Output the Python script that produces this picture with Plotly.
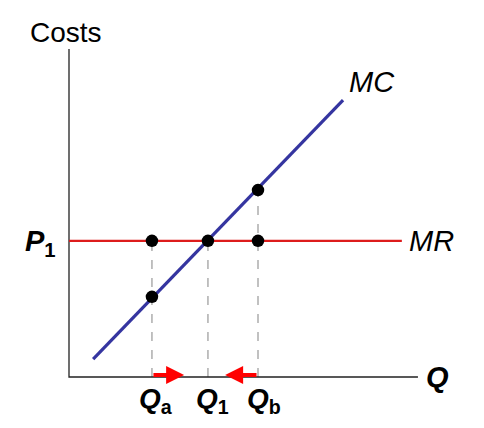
import plotly.graph_objects as go

# Data (Q units / cost units)
q_labels = ["Q<sub>a</sub>", "Q<sub>1</sub>", "Q<sub>b</sub>"]
q_values = [2.37, 3.97, 5.4]
p1 = 3.89
mc_q = [0.69, 7.83]
mc_cost = [0.51, 7.91]
mr_q = [0.0, 9.51]
dot_q = [2.37, 3.97, 5.4, 5.4, 2.37]
dot_cost = [3.89, 3.89, 3.89, 5.34, 2.29]
dash_top = [3.89, 3.89, 5.34]
axis_q_max = 9.97
axis_cost_max = 9.37
arrow_tips = [3.29, 4.46]

S = 35.0
PAD = 8  # page body margin
ox, oy = 69 - PAD, 377 - PAD
W, H = 468, 412

fig = go.Figure()
FONT = "Liberation Sans, Arial, sans-serif"

def qx(px):
    return (px - 69) / S

def cy(py):
    return (377 - py) / S

# dashed verticals
for q, top in zip(q_values, dash_top):
    fig.add_trace(go.Scatter(x=[q, q], y=[0, top], mode="lines",
                             line=dict(color="#a0a0a0", width=1.3, dash="dash"),
                             hoverinfo="skip", showlegend=False))
# axes
fig.add_trace(go.Scatter(x=[0, 0, axis_q_max], y=[axis_cost_max, 0, 0], mode="lines",
                         line=dict(color="#222222", width=1.3), hoverinfo="skip", showlegend=False))
# MR
fig.add_trace(go.Scatter(x=mr_q, y=[p1, p1], mode="lines",
                         line=dict(color="#dd1c1c", width=2.2), showlegend=False))
# MC
fig.add_trace(go.Scatter(x=mc_q, y=mc_cost, mode="lines",
                         line=dict(color="#3535a0", width=3.2), showlegend=False))
# dots
fig.add_trace(go.Scatter(x=dot_q, y=dot_cost, mode="markers",
                         marker=dict(color="black", size=12.5), showlegend=False))

# arrows
for q0, q1 in zip([q_values[0], q_values[2]], arrow_tips):
    fig.add_annotation(x=q1, y=0.06, ax=q0, ay=0.06, xref="x", yref="y", axref="x", ayref="y",
                       text="", showarrow=True, arrowhead=2, arrowsize=0.9, arrowwidth=4,
                       arrowcolor="#ff0000", standoff=0, startstandoff=0)

lab_font = dict(family=FONT, size=28, color="black")
label_centers_px = [155.5, 212, 263.5]
for lab, xc in zip(q_labels, label_centers_px):
    fig.add_annotation(x=qx(xc), y=cy(400), xref="x", yref="y",
                       text="<b><i>" + lab.replace("<sub>", "</i><sub>") + "</b>",
                       showarrow=False, font=lab_font)
fig.add_annotation(x=qx(437.5), y=cy(377), text="<b><i>Q</i></b>", showarrow=False,
                   font=dict(family=FONT, size=29, color="black"))
fig.add_annotation(x=qx(40), y=cy(243), text="<b><i>P</i><sub>1</sub></b>",
                   showarrow=False, font=dict(family=FONT, size=29, color="black"))
fig.add_annotation(x=qx(431), y=cy(241), text="<i>MR</i>", showarrow=False,
                   font=dict(family=FONT, size=29, color="black"))
fig.add_annotation(x=qx(372), y=cy(82), text="<i>MC</i>", showarrow=False,
                   font=dict(family=FONT, size=29, color="black"))
fig.add_annotation(x=qx(66), y=cy(32), text="Costs", showarrow=False,
                   font=dict(family=FONT, size=28, color="black"))

fig.update_layout(
    width=W, height=H, margin=dict(l=0, r=0, t=0, b=0),
    plot_bgcolor="white", paper_bgcolor="white",
    xaxis=dict(range=[-ox / S, (W - ox) / S], visible=False, fixedrange=True),
    yaxis=dict(range=[(oy - H) / S, oy / S], visible=False, fixedrange=True),
)
fig.write_html("out.html")
